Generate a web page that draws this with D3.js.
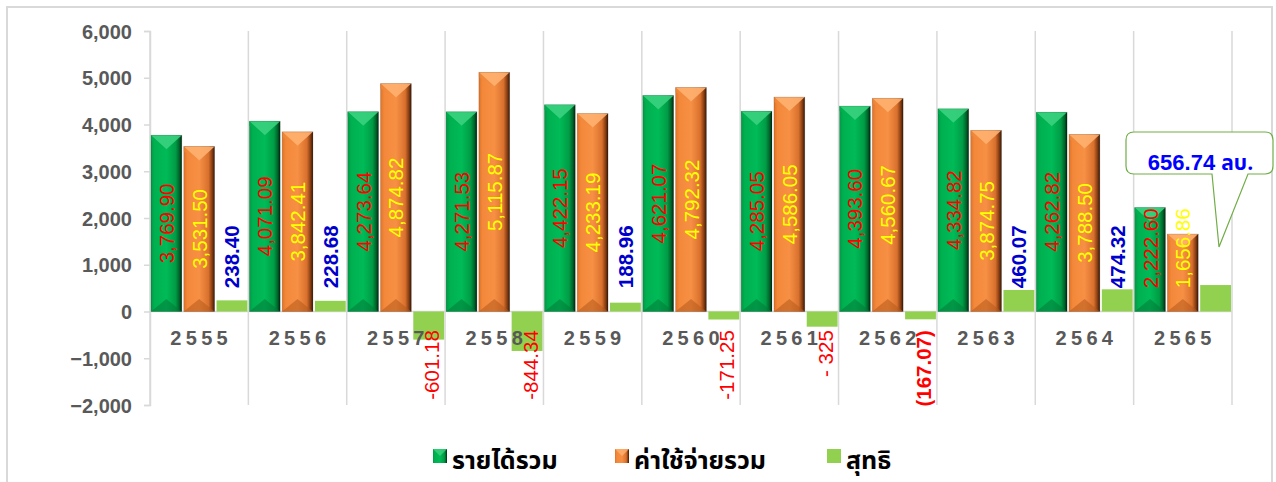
<!DOCTYPE html>
<html>
<head>
<meta charset="utf-8">
<script src="https://cdn.jsdelivr.net/npm/d3@7"></script>
<style>
  html, body { margin: 0; padding: 0; background: #fff; }
  svg { display: block; }
</style>
</head>
<body>
<svg id="chart" width="1276" height="482"></svg>
<script>
// ---------- data ----------
const years = ["2555","2556","2557","2558","2559","2560","2561","2562","2563","2564","2565"];
const revenue = [3769.90, 4071.09, 4273.64, 4271.53, 4422.15, 4621.07, 4285.05, 4393.60, 4334.82, 4262.82, 2222.60];
const expense = [3531.50, 3842.41, 4874.82, 5115.87, 4233.19, 4792.32, 4586.05, 4560.67, 3874.75, 3788.50, 1656.86];
const net = [238.40, 228.68, -601.18, -844.34, 188.96, -171.25, -325, -167.07, 460.07, 474.32, 565.74];
const netLabels = ["238.40","228.68","-601.18","-844.34","188.96","-171.25","- 325","(167.07)","460.07","474.32",""];
const yTicks = [-2000, -1000, 0, 1000, 2000, 3000, 4000, 5000, 6000];
const seriesNames = ["รายได้รวม", "ค่าใช้จ่ายรวม", "สุทธิ"];
const calloutValue = "656.74";
const calloutUnit = "ลบ.";

// ---------- setup ----------
const svg = d3.select("#chart");
const plot = {left: 150, right: 1232, top: 31, bottom: 405};
const numFont = "'Liberation Sans', Arial, sans-serif";
const thaiFont = "Tahoma, 'Noto Sans Thai', 'Loma', 'Garuda', 'DejaVu Sans', sans-serif";

// frame
svg.append("rect").attr("x", 7).attr("y", 7).attr("width", 1265).attr("height", 490)
  .attr("fill", "#fff").attr("stroke", "#d9d9d9").attr("stroke-width", 2);

const y = d3.scaleLinear().domain([-2000, 6000]).range([plot.bottom, plot.top]);
const x0 = d3.scaleBand().domain(years).range([plot.left, plot.right]).paddingInner(0).paddingOuter(0);
const x1 = d3.scaleBand().domain([0,1,2]).range([0, x0.bandwidth()]).paddingInner(0.06).paddingOuter(0.03);

// defs: gradients
const defs = svg.append("defs");
function hGrad(id, stops) {
  const g = defs.append("linearGradient").attr("id", id).attr("x1", "0").attr("x2", "1").attr("y1", "0").attr("y2", "0");
  stops.forEach(s => g.append("stop").attr("offset", s[0]).attr("stop-color", s[1]));
}
hGrad("gGreen", [[0, "#009a46"], [0.12, "#00b050"], [0.5, "#00bb57"], [0.8, "#009c45"], [0.92, "#00642a"], [1, "#00240e"]]);
hGrad("gOrange", [[0, "#e07226"], [0.12, "#f3883a"], [0.5, "#f79044"], [0.8, "#d9712e"], [0.92, "#873d12"], [1, "#361805"]]);

const styles = [
  {fill: "url(#gGreen)", top: "#3ad27e", topEdge: "#00b050", bottom: "#007a38", label: "#ff0000"},
  {fill: "url(#gOrange)", top: "#ffb070", topEdge: "#f08a3c", bottom: "#b55a1c", label: "#ffff00"}
];

// vertical category gridlines
const bounds = years.map(d => x0(d)).concat([plot.right]);
svg.append("g").selectAll("line").data(bounds).join("line")
  .attr("x1", d => d).attr("x2", d => d)
  .attr("y1", plot.top).attr("y2", plot.bottom)
  .attr("stroke", "#d9d9d9").attr("stroke-width", 1.5);

// y axis
const yAxis = d3.axisLeft(y).tickValues(yTicks).tickSize(6).tickPadding(12)
  .tickFormat(d3.format(",.0f"));
const yg = svg.append("g").attr("transform", `translate(${plot.left},0)`).call(yAxis);
yg.select(".domain").attr("stroke", "#d9d9d9").attr("stroke-width", 1.5);
yg.selectAll(".tick line").attr("stroke", "#d9d9d9").attr("stroke-width", 1.5);
yg.selectAll(".tick text").attr("fill", "#595959").attr("font-family", numFont)
  .attr("font-weight", "bold").attr("font-size", "20px").attr("dy", "0.35em");

// zero line
svg.append("line").attr("x1", plot.left).attr("x2", plot.right)
  .attr("y1", y(0)).attr("y2", y(0)).attr("stroke", "#d9d9d9").attr("stroke-width", 1.5);

// 3D bars
function bevelBar(g, xl, w, v, st) {
  const yt = y(v), yb = y(0);
  const h = yb - yt;
  g.append("rect").attr("x", xl).attr("y", yt).attr("width", w).attr("height", h).attr("fill", st.fill);
  const b = Math.min(w * 0.5, 14);
  g.append("path").attr("d", `M${xl},${yt} L${xl + w},${yt} L${xl + w / 2},${yt + b} Z`).attr("fill", st.top).attr("opacity", 0.9);
  g.append("path").attr("d", `M${xl},${yt} L${xl + w / 2},${yt + b} L${xl},${yt + b * 0.35} Z`).attr("fill", st.topEdge).attr("opacity", 0.6);
  g.append("path").attr("d", `M${xl},${yb} L${xl + w},${yb} L${xl + w / 2},${yb - b * 0.9} Z`).attr("fill", st.bottom).attr("opacity", 0.55);
  g.append("rect").attr("x", xl).attr("y", yt).attr("width", w).attr("height", h)
    .attr("fill", "none").attr("stroke", "rgba(0,0,0,0.18)").attr("stroke-width", 0.8);
}

const barsG = svg.append("g");
years.forEach((yr, i) => {
  [revenue[i], expense[i]].forEach((v, s) => {
    bevelBar(barsG, x0(yr) + x1(s), x1.bandwidth(), v, styles[s]);
  });
  const nv = net[i];
  barsG.append("rect").attr("x", x0(yr) + x1(2)).attr("y", Math.min(y(nv), y(0)))
    .attr("width", x1.bandwidth()).attr("height", Math.abs(y(nv) - y(0))).attr("fill", "#92d050");
});

// x labels
svg.append("g").selectAll("text").data(years).join("text")
  .attr("x", d => x0(d) + x0.bandwidth() / 2 + 2)
  .attr("y", 345)
  .attr("text-anchor", "middle")
  .attr("font-family", numFont).attr("font-weight", "bold").attr("font-size", "20px")
  .attr("letter-spacing", "4.3px").attr("fill", "#595959")
  .text(d => d);

// data labels
const fmt = d3.format(",.2f");
const labelsG = svg.append("g");
const labelBase = y(500);
years.forEach((yr, i) => {
  [revenue[i], expense[i]].forEach((v, s) => {
    const cx = x0(yr) + x1(s) + x1.bandwidth() / 2;
    const t = labelsG.append("text")
      .attr("font-family", numFont).attr("font-size", "20.5px").attr("fill", styles[s].label)
      .attr("text-anchor", "middle").attr("dominant-baseline", "central")
      .text(fmt(v));
    const len = t.node().getComputedTextLength();
    const cy = Math.min((y(v) + y(0)) / 2, labelBase - len / 2);
    t.attr("transform", `translate(${cx},${cy}) rotate(-90)`);
  });
  const nv = net[i];
  const lbl = netLabels[i];
  if (!lbl) return;
  const cx = x0(yr) + x1(2) + x1.bandwidth() / 2;
  if (nv >= 0) {
    labelsG.append("text")
      .attr("transform", `translate(${cx},${labelBase}) rotate(-90)`)
      .attr("font-family", numFont).attr("font-size", "20.5px").attr("font-weight", "bold")
      .attr("fill", "#0000cc").attr("text-anchor", "start").attr("dominant-baseline", "central")
      .text(lbl);
  } else {
    labelsG.append("text")
      .attr("transform", `translate(${cx + 3},${y(-400)}) rotate(-90)`)
      .attr("font-family", numFont).attr("font-size", "20.5px")
      .attr("font-weight", lbl.startsWith("(") ? "bold" : "normal")
      .attr("fill", "#ff0000").attr("text-anchor", "end").attr("dominant-baseline", "central")
      .text(lbl);
  }
});

// callout
const co = {x: 1126, y: 132, w: 147, h: 42, r: 8};
const tip = {x: 1219, y: 247};
const p1 = 1212, p2 = 1248;
const cpath = `M${co.x + co.r},${co.y} H${co.x + co.w - co.r} Q${co.x + co.w},${co.y} ${co.x + co.w},${co.y + co.r}
 V${co.y + co.h - co.r} Q${co.x + co.w},${co.y + co.h} ${co.x + co.w - co.r},${co.y + co.h}
 H${p2} L${tip.x},${tip.y} L${p1},${co.y + co.h}
 H${co.x + co.r} Q${co.x},${co.y + co.h} ${co.x},${co.y + co.h - co.r}
 V${co.y + co.r} Q${co.x},${co.y} ${co.x + co.r},${co.y} Z`;
svg.append("path").attr("d", cpath).attr("fill", "#fff").attr("stroke", "#70ad47").attr("stroke-width", 1.2);
const ct = svg.append("text").attr("x", co.x + co.w / 2 + 1).attr("y", 170)
  .attr("text-anchor", "middle").attr("fill", "#0000ff").attr("font-weight", "bold");
ct.append("tspan").attr("font-family", numFont).attr("font-size", "22px").text(calloutValue + " ");
ct.append("tspan").attr("font-family", thaiFont).attr("font-size", "21px").text(calloutUnit);

// legend
const legend = svg.append("g");
const legendItems = [
  {x: 433, name: seriesNames[0], fill: "url(#gGreen)", top: "#3ad27e"},
  {x: 615, name: seriesNames[1], fill: "url(#gOrange)", top: "#ffb070"},
  {x: 827, name: seriesNames[2], fill: "#92d050", top: null}
];
legendItems.forEach(it => {
  legend.append("rect").attr("x", it.x).attr("y", 449).attr("width", 14).attr("height", 14).attr("fill", it.fill);
  if (it.top) {
    legend.append("path").attr("d", `M${it.x},449 L${it.x + 14},449 L${it.x + 7},456 Z`).attr("fill", it.top).attr("opacity", 0.8);
  }
  legend.append("text").attr("x", it.x + 19).attr("y", 469)
    .attr("font-family", thaiFont).attr("font-weight", "bold").attr("font-size", "25px")
    .attr("fill", "#000").text(it.name);
});
</script>
</body>
</html>
